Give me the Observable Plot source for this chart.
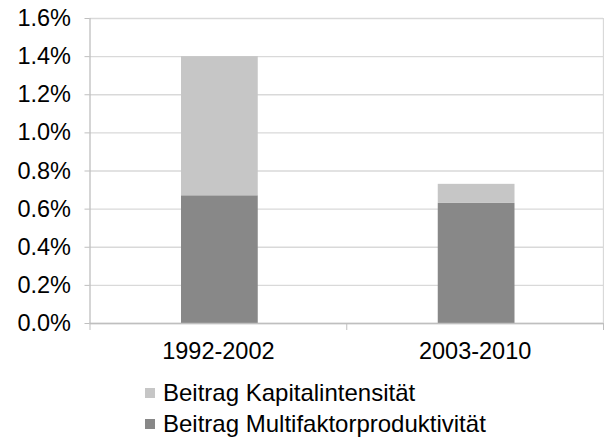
<!DOCTYPE html>
<html><head><meta charset="utf-8">
<script src="https://cdn.jsdelivr.net/npm/d3@7"></script>
<script src="https://cdn.jsdelivr.net/npm/@observablehq/plot@0.6"></script>
<style>
body{margin:0;background:#fff;font-family:"Liberation Sans",Arial,sans-serif;}
#chart svg{display:block}
.legend{padding-left:145px;font-size:24px;color:#000;margin-top:12px}
.item{display:flex;align-items:center;height:31px;white-space:nowrap}
.sw{width:10px;height:10px;margin-right:8px;flex:none}
</style></head><body><div id="chart"></div><div class="legend" id="legend"></div>
<script>
const categories = ["1992-2002", "2003-2010"];
const series = ["Beitrag Multifaktorproduktivität", "Beitrag Kapitalintensität"];
const multifaktor = [0.0067, 0.0063];
const kapital = [0.0073, 0.0010];
const yTicks = [0, 0.002, 0.004, 0.006, 0.008, 0.010, 0.012, 0.014, 0.016];
const colors = ["#888888", "#c6c6c6"];
const legendOrder = ["Beitrag Kapitalintensität", "Beitrag Multifaktorproduktivität"];

const values = [multifaktor, kapital];
const rows = [];
categories.forEach((c, i) => {
  let base = 0;
  series.forEach((s, k) => {
    const v = values[k][i];
    rows.push({cat: c, series: s, x1: i, x2: i + 1, y1: base, y2: base + v});
    base += v;
  });
});

const chart = Plot.plot({
  width: 604, height: 365,
  marginLeft: 89.5, marginRight: 1, marginTop: 18, marginBottom: 42,
  style: {fontFamily: "Liberation Sans, Arial, sans-serif", fontSize: "23.5px", color: "#000", background: "#fff"},
  x: {type: "linear", domain: [0, categories.length], label: null},
  y: {domain: [0, 0.016], label: null},
  color: {domain: series, range: colors},
  marks: [
    Plot.gridY(yTicks, {stroke: "#d9d9d9", strokeOpacity: 1, strokeWidth: 1.3}),
    Plot.ruleX([categories.length], {stroke: "#d9d9d9", strokeWidth: 1.3}),
    Plot.rect(rows, {x1: "x1", x2: "x2", y1: "y1", y2: "y2", fill: "series", insetLeft: 91.5, insetRight: 88.5}),
    Plot.ruleX([0], {stroke: "#bfbfbf", strokeWidth: 1.3}),
    Plot.ruleY([0], {stroke: "#bfbfbf", strokeWidth: 1.3}),
    Plot.axisY(yTicks, {tickFormat: d3.format(".1%"), tickSize: 5, tickPadding: 14, stroke: "#bfbfbf", label: null}),
    Plot.axisX(d3.range(categories.length + 1), {tickFormat: () => "", tickSize: 7, stroke: "#bfbfbf", label: null}),
    Plot.axisX(categories.map((c, i) => i + 0.5), {tickFormat: d => categories[Math.round(d - 0.5)], tickSize: 0, tickPadding: 19, label: null})
  ]
});
document.getElementById("chart").appendChild(chart);

const legend = document.getElementById("legend");
legendOrder.forEach(s => {
  const item = document.createElement("div");
  item.className = "item";
  const sw = document.createElement("span");
  sw.className = "sw";
  sw.style.background = colors[series.indexOf(s)];
  const t = document.createElement("span");
  t.textContent = s;
  item.appendChild(sw); item.appendChild(t);
  legend.appendChild(item);
});
</script></body></html>
